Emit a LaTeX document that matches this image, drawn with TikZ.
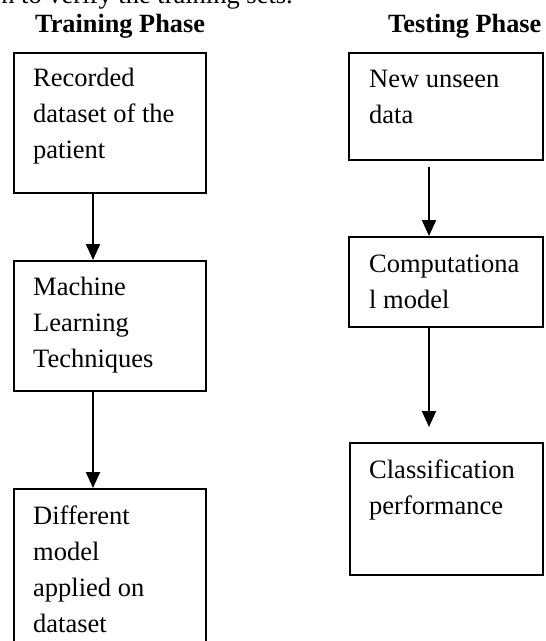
\documentclass[tikz,border=0pt]{standalone}
\usepackage{fontspec}
\setmainfont{Liberation Serif}
\usetikzlibrary{arrows.meta}
\tikzset{
  box/.style={draw=black, line width=1.6pt, rectangle, inner sep=0pt, anchor=north west},
  txt/.style={anchor=north west, align=left, inner sep=0pt, font=\fontsize{26.5}{36}\selectfont},
  head/.style={anchor=base west, inner sep=0pt, font=\fontsize{26.3}{30}\selectfont\bfseries},
  arr/.style={line width=2pt, -{Triangle[width=14pt,length=16pt]}}
}
\begin{document}
\begin{tikzpicture}[x=1pt,y=-1pt]
\useasboundingbox (0,0) rectangle (546,641);
\clip (0,0) rectangle (546,641);
% cut-off text line at the top
\node[anchor=base east, inner sep=0pt, font=\fontsize{26.5}{30}\selectfont] (topline) at (293,3.5) {n to verify the training sets.};
% headings
\node[head] (h1) at (35,32) {Training Phase};
\node[head] (h2) at (388,32) {Testing Phase};
% training column
\node[box, minimum width=192pt, minimum height=140pt] (b1) at (13,52) {};
\node[box, minimum width=192pt, minimum height=130pt] (b2) at (13,260) {};
\node[box, minimum width=192pt, minimum height=180pt] (b3) at (13,488) {};
\node[txt] (t1) at ([shift={(20,8.8)}]b1.north west) {\strut Recorded\\dataset of the\\patient};
\node[txt] (t2) at ([shift={(20,9.8)}]b2.north west) {\strut Machine\\Learning\\Techniques};
\node[txt] (t3) at ([shift={(20,11.3)}]b3.north west) {\strut Different\\model\\applied on\\dataset};
% testing column
\node[box, minimum width=194pt, minimum height=107pt] (b4) at (348,52) {};
\node[box, minimum width=194pt, minimum height=90pt] (b5) at (348,236) {};
\node[box, minimum width=193pt, minimum height=132pt] (b6) at (349,442) {};
\node[txt] (t4) at ([shift={(21,9.8)}]b4.north west) {\strut New unseen\\data};
\node[txt] (t5) at ([shift={(21,10.8)}]b5.north west) {\strut Computationa\\l model};
\node[txt] (t6) at ([shift={(20,10.8)}]b6.north west) {\strut Classification\\performance};
% connector columns
\coordinate (cl) at (93,0);
\coordinate (cr) at (429,0);
\draw[arr] (b1.south -| cl) -- (b2.north -| cl);
\draw[arr] (b2.south -| cl) -- (b3.north -| cl);
\draw[arr, shorten <=6pt] (b4.south -| cr) -- (b5.north -| cr);
\draw[arr, shorten >=15pt] (b5.south -| cr) -- (b6.north -| cr);
\end{tikzpicture}
\end{document}
